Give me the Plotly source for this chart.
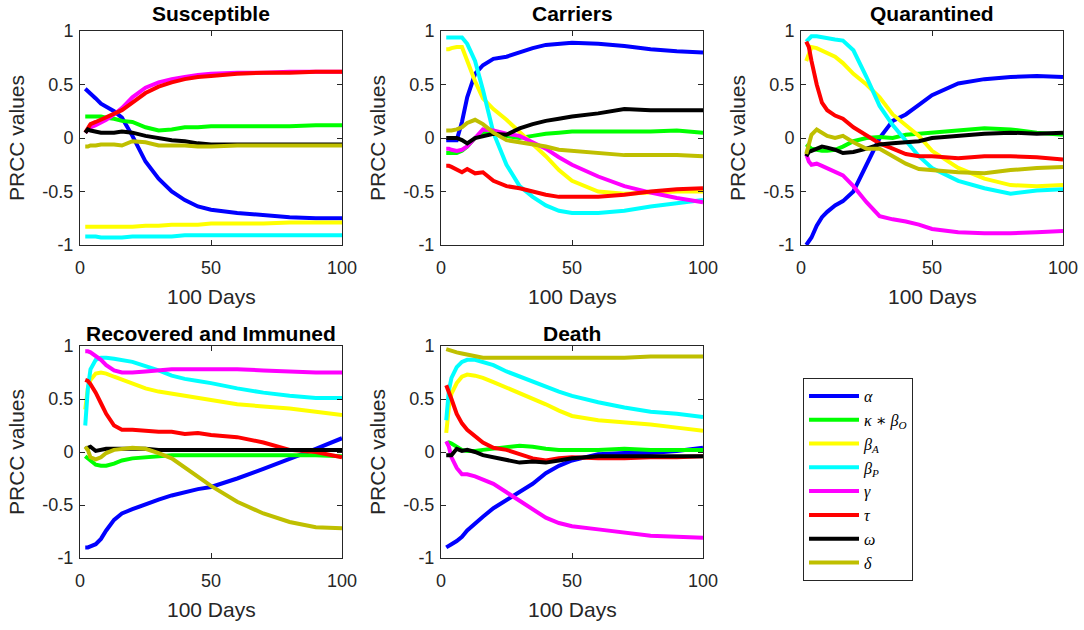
import plotly.graph_objects as go

W, H = 1084, 630

DAYS = [2, 3, 4, 6, 8, 10, 13, 16, 20, 25, 30, 35, 40, 45, 50, 60, 70, 80, 90, 100]

PARAMS = ["alpha", "kappa", "betaA", "betaP", "gamma", "tau", "omega", "delta"]
LABELS = ["<i>α</i>", "<i>κ</i> ∗ <i>β</i><sub><i>O</i></sub>", "<i>β</i><sub><i>A</i></sub>",
          "<i>β</i><sub><i>P</i></sub>", "<i>γ</i>", "<i>τ</i>", "<i>ω</i>", "<i>δ</i>"]
COLORS = ["#0000FF", "#00FF00", "#FFFF00", "#00FFFF", "#FF00FF", "#FF0000", "#000000", "#BFBF00"]

TITLES = ["Susceptible", "Carriers", "Quarantined", "Recovered and Immuned", "Death"]
X_TITLE = "100 Days"
Y_TITLE = "PRCC values"
X_TICKS = [0, 50, 100]
X_TICKTEXT = ["0", "50", "100"]
Y_TICKS = [-1, -0.5, 0, 0.5, 1]
Y_TICKTEXT = ["-1", "-0.5", "0", "0.5", "1"]

susceptible = {
    "alpha": [0.46, 0.44, 0.42, 0.37, 0.32, 0.29, 0.25, 0.19, 0.02, -0.22, -0.38, -0.50, -0.58, -0.64, -0.67, -0.70, -0.72, -0.74, -0.75, -0.75],
    "kappa": [0.20, 0.20, 0.20, 0.20, 0.20, 0.19, 0.18, 0.16, 0.15, 0.10, 0.07, 0.08, 0.10, 0.10, 0.11, 0.11, 0.11, 0.11, 0.12, 0.12],
    "betaA": [-0.83, -0.83, -0.83, -0.83, -0.83, -0.83, -0.83, -0.83, -0.83, -0.82, -0.82, -0.81, -0.81, -0.81, -0.80, -0.80, -0.80, -0.79, -0.79, -0.79],
    "betaP": [-0.92, -0.92, -0.92, -0.92, -0.93, -0.93, -0.93, -0.93, -0.92, -0.92, -0.92, -0.92, -0.91, -0.91, -0.91, -0.91, -0.91, -0.91, -0.91, -0.91],
    "gamma": [0.05, 0.08, 0.10, 0.12, 0.14, 0.17, 0.22, 0.28, 0.38, 0.47, 0.52, 0.55, 0.57, 0.59, 0.60, 0.61, 0.61, 0.62, 0.62, 0.62],
    "tau":   [0.05, 0.09, 0.13, 0.15, 0.17, 0.19, 0.22, 0.26, 0.33, 0.42, 0.48, 0.52, 0.55, 0.57, 0.58, 0.60, 0.61, 0.61, 0.62, 0.62],
    "omega": [0.05, 0.08, 0.07, 0.06, 0.05, 0.05, 0.05, 0.06, 0.05, 0.02, 0.00, -0.02, -0.03, -0.05, -0.06, -0.06, -0.06, -0.06, -0.06, -0.06],
    "delta": [-0.08, -0.08, -0.07, -0.07, -0.06, -0.06, -0.06, -0.07, -0.03, -0.04, -0.07, -0.07, -0.07, -0.08, -0.08, -0.07, -0.07, -0.07, -0.07, -0.07],
}

carriers = {
    "alpha": [-0.02, -0.02, -0.02, -0.02, 0.15, 0.38, 0.60, 0.68, 0.74, 0.76, 0.80, 0.84, 0.87, 0.88, 0.89, 0.88, 0.86, 0.83, 0.81, 0.80],
    "kappa": [-0.14, -0.14, -0.14, -0.14, -0.12, -0.08, 0.00, 0.05, 0.04, 0.02, 0.00, 0.02, 0.04, 0.05, 0.06, 0.06, 0.06, 0.06, 0.07, 0.05],
    "betaA": [0.83, 0.83, 0.84, 0.85, 0.85, 0.72, 0.53, 0.37, 0.27, 0.17, 0.06, -0.05, -0.17, -0.30, -0.40, -0.50, -0.52, -0.51, -0.50, -0.50],
    "betaP": [0.94, 0.94, 0.94, 0.94, 0.94, 0.88, 0.72, 0.45, 0.05, -0.25, -0.45, -0.55, -0.63, -0.68, -0.70, -0.70, -0.68, -0.64, -0.61, -0.58],
    "gamma": [-0.10, -0.10, -0.11, -0.12, -0.11, -0.08, 0.00, 0.08, 0.07, 0.04, 0.02, -0.04, -0.10, -0.18, -0.25, -0.36, -0.45, -0.51, -0.56, -0.60],
    "tau":   [-0.26, -0.26, -0.27, -0.29, -0.32, -0.29, -0.33, -0.32, -0.40, -0.45, -0.47, -0.50, -0.53, -0.55, -0.55, -0.55, -0.53, -0.50, -0.48, -0.47],
    "omega": [0.00, 0.00, 0.00, 0.00, -0.02, -0.05, 0.00, 0.02, 0.04, 0.03, 0.09, 0.13, 0.16, 0.18, 0.20, 0.23, 0.27, 0.26, 0.26, 0.26],
    "delta": [0.07, 0.07, 0.07, 0.08, 0.10, 0.14, 0.17, 0.13, 0.05, -0.02, -0.04, -0.06, -0.08, -0.11, -0.12, -0.14, -0.16, -0.16, -0.16, -0.17],
}

quarantined = {
    "alpha": [-1.00, -0.97, -0.93, -0.82, -0.74, -0.69, -0.63, -0.59, -0.50, -0.25, 0.00, 0.16, 0.22, 0.31, 0.40, 0.51, 0.55, 0.57, 0.58, 0.57],
    "kappa": [-0.06, -0.08, -0.10, -0.11, -0.12, -0.12, -0.11, -0.08, -0.03, 0.00, 0.01, 0.00, 0.03, 0.04, 0.05, 0.07, 0.09, 0.08, 0.05, 0.03],
    "betaA": [0.72, 0.80, 0.85, 0.84, 0.82, 0.80, 0.76, 0.70, 0.60, 0.50, 0.38, 0.22, 0.12, 0.02, -0.12, -0.28, -0.38, -0.44, -0.45, -0.44],
    "betaP": [0.90, 0.93, 0.95, 0.95, 0.94, 0.93, 0.92, 0.91, 0.82, 0.57, 0.30, 0.12, -0.02, -0.17, -0.28, -0.40, -0.47, -0.52, -0.49, -0.48],
    "gamma": [-0.15, -0.22, -0.25, -0.24, -0.26, -0.28, -0.31, -0.35, -0.45, -0.60, -0.73, -0.76, -0.78, -0.81, -0.85, -0.88, -0.89, -0.89, -0.88, -0.87],
    "tau":   [0.90, 0.85, 0.72, 0.50, 0.33, 0.26, 0.21, 0.18, 0.10, 0.02, -0.05, -0.10, -0.15, -0.17, -0.17, -0.19, -0.17, -0.17, -0.18, -0.20],
    "omega": [-0.17, -0.13, -0.12, -0.10, -0.08, -0.09, -0.11, -0.14, -0.13, -0.10, -0.06, -0.05, -0.04, -0.03, 0.00, 0.02, 0.04, 0.05, 0.04, 0.05],
    "delta": [-0.15, -0.05, 0.03, 0.08, 0.05, 0.02, 0.00, 0.02, -0.04, -0.10, -0.10, -0.17, -0.24, -0.29, -0.30, -0.32, -0.33, -0.30, -0.28, -0.27],
}

recovered = {
    "alpha": [-0.90, -0.90, -0.89, -0.87, -0.82, -0.74, -0.64, -0.58, -0.54, -0.49, -0.45, -0.41, -0.38, -0.35, -0.33, -0.25, -0.16, -0.07, 0.03, 0.13],
    "kappa": [-0.04, -0.06, -0.09, -0.12, -0.13, -0.13, -0.11, -0.08, -0.06, -0.05, -0.04, -0.03, -0.03, -0.03, -0.03, -0.03, -0.03, -0.03, -0.03, -0.04],
    "betaA": [0.40, 0.60, 0.68, 0.74, 0.75, 0.74, 0.71, 0.68, 0.64, 0.60, 0.57, 0.55, 0.53, 0.51, 0.49, 0.45, 0.43, 0.41, 0.38, 0.35],
    "betaP": [0.25, 0.60, 0.78, 0.87, 0.89, 0.89, 0.88, 0.87, 0.85, 0.81, 0.77, 0.72, 0.69, 0.67, 0.65, 0.60, 0.56, 0.53, 0.51, 0.51],
    "gamma": [0.95, 0.95, 0.94, 0.91, 0.87, 0.82, 0.77, 0.75, 0.75, 0.76, 0.77, 0.78, 0.78, 0.78, 0.78, 0.78, 0.77, 0.76, 0.75, 0.75],
    "tau":   [0.68, 0.67, 0.64, 0.56, 0.46, 0.36, 0.25, 0.21, 0.21, 0.20, 0.19, 0.19, 0.17, 0.18, 0.16, 0.14, 0.09, 0.02, 0.00, -0.05],
    "omega": [0.03, 0.04, 0.05, 0.01, 0.02, 0.03, 0.03, 0.03, 0.03, 0.03, 0.02, 0.02, 0.02, 0.02, 0.02, 0.02, 0.02, 0.02, 0.02, 0.02],
    "delta": [0.05, 0.02, -0.05, -0.07, -0.05, -0.01, 0.02, 0.03, 0.04, 0.03, -0.01, -0.06, -0.15, -0.24, -0.32, -0.47, -0.58, -0.66, -0.71, -0.72],
}

death = {
    "alpha": [-0.90, -0.88, -0.87, -0.84, -0.80, -0.74, -0.67, -0.61, -0.53, -0.45, -0.38, -0.30, -0.20, -0.13, -0.08, -0.02, -0.01, -0.01, 0.01, 0.04],
    "kappa": [0.08, 0.09, 0.08, 0.05, 0.02, 0.01, 0.01, 0.02, 0.03, 0.04, 0.06, 0.05, 0.03, 0.02, 0.02, 0.02, 0.03, 0.02, 0.02, 0.02],
    "betaA": [0.18, 0.42, 0.55, 0.65, 0.71, 0.73, 0.72, 0.70, 0.66, 0.61, 0.56, 0.51, 0.45, 0.39, 0.34, 0.30, 0.28, 0.26, 0.23, 0.20],
    "betaP": [0.30, 0.58, 0.70, 0.80, 0.85, 0.87, 0.87, 0.85, 0.82, 0.76, 0.71, 0.67, 0.62, 0.57, 0.53, 0.47, 0.42, 0.38, 0.36, 0.33],
    "gamma": [0.10, 0.05, -0.05, -0.15, -0.21, -0.21, -0.23, -0.26, -0.30, -0.38, -0.46, -0.55, -0.62, -0.67, -0.70, -0.73, -0.76, -0.79, -0.80, -0.81],
    "tau":   [0.63, 0.57, 0.50, 0.36, 0.27, 0.21, 0.15, 0.09, 0.04, 0.02, -0.02, -0.06, -0.08, -0.06, -0.05, -0.06, -0.06, -0.05, -0.05, -0.04],
    "omega": [-0.03, -0.03, -0.03, 0.03, 0.01, 0.02, 0.00, -0.03, -0.05, -0.08, -0.10, -0.09, -0.10, -0.08, -0.06, -0.04, -0.04, -0.04, -0.04, -0.04],
    "delta": [0.97, 0.96, 0.95, 0.94, 0.93, 0.92, 0.90, 0.89, 0.89, 0.89, 0.89, 0.89, 0.89, 0.89, 0.89, 0.89, 0.89, 0.90, 0.90, 0.90],
}

PANELS = [susceptible, carriers, quarantined, recovered, death]

# ---- layout geometry (pixels) ----
COL_X = [(80, 342), (441, 703), (801, 1063)]
ROW_Y = [(31, 245), (346, 558)]
POS = [(0, 0), (0, 1), (0, 2), (1, 0), (1, 1)]
TITLE_Y = [13, 333]

FONT = "Liberation Sans, Arial, sans-serif"
AXC = "#262626"

fig = go.Figure()
layout = dict(
    width=W, height=H, margin=dict(l=0, r=0, t=0, b=0, pad=0), autosize=False,
    paper_bgcolor="white", plot_bgcolor="white",
    font=dict(family=FONT, size=18, color=AXC),
    showlegend=True,
    legend=dict(x=803 / W, y=1 - 378 / H, xanchor="left", yanchor="top",
                bordercolor=AXC, borderwidth=1, bgcolor="white",
                font=dict(family="Liberation Serif, DejaVu Serif, serif", size=16, color="black"),
                itemwidth=50, tracegroupgap=0),
)
annotations = []

for k, (panel, (r, c)) in enumerate(zip(PANELS, POS)):
    idx = k + 1
    xa = "x" if idx == 1 else f"x{idx}"
    ya = "y" if idx == 1 else f"y{idx}"
    x0, x1 = COL_X[c]
    y0, y1 = ROW_Y[r]
    for p, lab, col in zip(PARAMS, LABELS, COLORS):
        fig.add_trace(go.Scatter(
            x=DAYS, y=panel[p], mode="lines", name=lab,
            line=dict(color=col, width=4),
            xaxis=xa, yaxis=ya, legendgroup=p, showlegend=(k == 0),
        ))
    axis_common = dict(showline=True, linecolor=AXC, linewidth=1, mirror="ticks",
                       ticks="inside", ticklen=5, tickcolor=AXC, showgrid=False,
                       zeroline=False, automargin=False,
                       tickfont=dict(family=FONT, size=18, color=AXC))
    layout["xaxis" if idx == 1 else f"xaxis{idx}"] = dict(
        domain=[x0 / W, x1 / W], range=[0, 100], anchor=ya,
        tickvals=X_TICKS, ticktext=X_TICKTEXT, ticklabelstandoff=6, **axis_common)
    layout["yaxis" if idx == 1 else f"yaxis{idx}"] = dict(
        domain=[1 - y1 / H, 1 - y0 / H], range=[-1, 1], anchor=xa,
        tickvals=Y_TICKS, ticktext=Y_TICKTEXT, ticklabelstandoff=2, **axis_common)
    # panel title
    annotations.append(dict(
        text=f"<b>{TITLES[k]}</b>", x=(x0 + x1) / 2 / W, y=1 - TITLE_Y[r] / H,
        xref="paper", yref="paper", xanchor="center", yanchor="middle",
        showarrow=False, font=dict(family=FONT, size=21, color="black")))
    # x axis title
    annotations.append(dict(
        text=X_TITLE, x=(x0 + x1) / 2 / W, y=1 - (y1 + 51) / H,
        xref="paper", yref="paper", xanchor="center", yanchor="middle",
        showarrow=False, font=dict(family=FONT, size=21, color=AXC)))
    # y axis title
    annotations.append(dict(
        text=Y_TITLE, x=(x0 - 64) / W, y=1 - (y0 + y1) / 2 / H,
        xref="paper", yref="paper", xanchor="center", yanchor="middle",
        textangle=-90, showarrow=False, font=dict(family=FONT, size=21, color=AXC)))

layout["annotations"] = annotations
fig.update_layout(**layout)
fig.write_html("out.html",
               config={"displayModeBar": False},
               post_script="document.body.style.margin='0';document.body.style.overflow='hidden';")
